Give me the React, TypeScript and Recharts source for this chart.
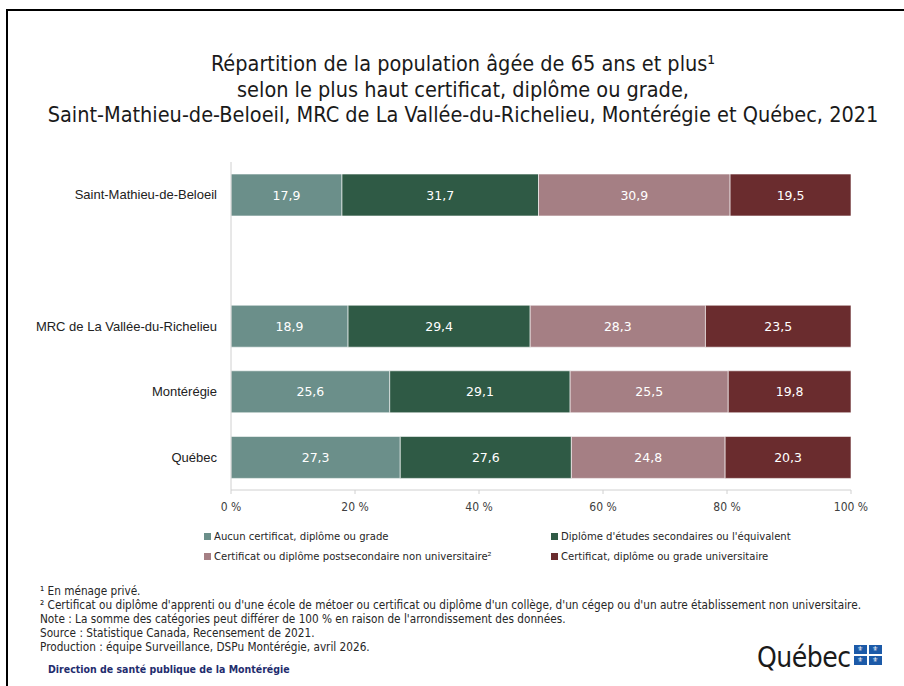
import React from 'react';
import { BarChart, Bar, XAxis, YAxis, LabelList } from 'recharts';

// regions (the empty one is the gap after the municipality)
const regions = ['Saint-Mathieu-de-Beloeil', '', 'MRC de La Vallée-du-Richelieu', 'Montérégie', 'Québec'];
const aucunDiplome = [17.9, null, 18.9, 25.6, 27.3];
const secondaire = [31.7, null, 29.4, 29.1, 27.6];
const postsecondaire = [30.9, null, 28.3, 25.5, 24.8];
const universitaire = [19.5, null, 23.5, 19.8, 20.3];

const seriesKeys = ['aucun', 'secondaire', 'postsec', 'univ'];
const seriesNames = [
  'Aucun certificat, diplôme ou grade',
  "Diplôme d'études secondaires ou l'équivalent",
  'Certificat ou diplôme postsecondaire non universitaire²',
  'Certificat, diplôme ou grade universitaire',
];
const seriesColors = ['#6b8f8a', '#2f5a45', '#a57f84', '#6a2c2e'];
const xTicks = [0, 0.2, 0.4, 0.6, 0.8, 1];

const footnotes = [
  '¹ En ménage privé.',
  "² Certificat ou diplôme d'apprenti ou d'une école de métoer ou certificat ou diplôme d'un collège, d'un cégep ou d'un autre établissement non universitaire.",
  "Note : La somme des catégories peut différer de 100 % en raison de l'arrondissement des données.",
  'Source : Statistique Canada, Recensement de 2021.',
  'Production : équipe Surveillance, DSPu Montérégie, avril 2026.',
];

const data = regions.map((name, i) => ({
  name,
  aucun: aucunDiplome[i],
  secondaire: secondaire[i],
  postsec: postsecondaire[i],
  univ: universitaire[i],
}));

const narrow = "'Liberation Sans Narrow', 'DejaVu Sans Condensed', 'Roboto Condensed', 'Liberation Sans', sans-serif";

const renderValue = (props: any) => {
  const vb = props.viewBox || {};
  const x = props.x ?? vb.x;
  const y = props.y ?? vb.y;
  const width = props.width ?? vb.width;
  const height = props.height ?? vb.height;
  const { value } = props;
  if (value == null) return null;
  return (
    <text
      x={x + width / 2}
      y={y + height / 2}
      fill="#ffffff"
      textAnchor="middle"
      dominantBaseline="central"
      fontSize={12.5}
      fontFamily="'DejaVu Sans', sans-serif"
    >
      {Number(value).toFixed(1).replace('.', ',')}
    </text>
  );
};

export default function App() {
  return (
    <div style={{ position: 'absolute', left: 0, top: 0, width: 904, height: 686, background: '#fff', overflow: 'hidden' }}>
      <div style={{ position: 'absolute', left: 6, top: 9, width: 1000, height: 1000, border: '2px solid #000' }} />

      <div
        style={{
          position: 'absolute',
          left: 13,
          top: 51,
          width: 900,
          textAlign: 'center',
          fontFamily: narrow,
          fontSize: 21.5,
          lineHeight: '25.5px',
          color: '#1a1a1a',
        }}
      >
        <div>Répartition de la population âgée de 65 ans et plus¹</div>
        <div>selon le plus haut certificat, diplôme ou grade,</div>
        <div>Saint-Mathieu-de-Beloeil, MRC de La Vallée-du-Richelieu, Montérégie et Québec, 2021</div>
      </div>

      <div style={{ position: 'absolute', left: 0, top: 0 }}>
        <BarChart
          width={904}
          height={686}
          data={data}
          layout="vertical"
          stackOffset="expand"
          barCategoryGap={12}
          margin={{ top: 162, right: 53, bottom: 166, left: 0 }}
        >
          <XAxis
            type="number"
            domain={[0, 1]}
            ticks={xTicks}
            tickFormatter={(v: number) => `${Math.round(v * 100)} %`}
            axisLine={{ stroke: '#d0d0d0' }}
            tickLine={{ stroke: '#d0d0d0' }}
            tickSize={4}
            tickMargin={8}
            height={30}
            tick={{ fontSize: 12, fill: '#404040', fontFamily: narrow }}
          />
          <YAxis
            type="category"
            dataKey="name"
            width={231}
            axisLine={{ stroke: '#d0d0d0' }}
            tickLine={false}
            tickMargin={8}
            tick={{ fontSize: 13, fill: '#222', fontFamily: "'Liberation Sans', Arial, sans-serif" }}
          />
          {seriesKeys.map((k, i) => (
            <Bar key={k} dataKey={k} stackId="a" fill={seriesColors[i]} stroke="#ffffff" strokeWidth={0.6} isAnimationActive={false}>
              <LabelList dataKey={k} content={renderValue} />
            </Bar>
          ))}
        </BarChart>
      </div>

      {seriesNames.map((n, i) => (
        <div
          key={n}
          style={{
            position: 'absolute',
            left: i % 2 === 0 ? 204 : 551,
            top: i < 2 ? 528 : 548,
            height: 16,
            display: 'flex',
            alignItems: 'center',
            fontFamily: narrow,
            fontSize: 11.2,
            color: '#262626',
            whiteSpace: 'nowrap',
          }}
        >
          <span style={{ display: 'inline-block', width: 7, height: 7, background: seriesColors[i], marginRight: 3 }} />
          {n}
        </div>
      ))}

      <div style={{ position: 'absolute', left: 40, top: 584, fontFamily: narrow, fontSize: 11.7, lineHeight: '14px', color: '#262626', whiteSpace: 'nowrap' }}>
        {footnotes.map((f) => (
          <div key={f}>{f}</div>
        ))}
      </div>

      <div style={{ position: 'absolute', left: 48, top: 663, fontFamily: narrow, fontSize: 10.5, fontWeight: 'bold', color: '#1f2d6e', whiteSpace: 'nowrap' }}>
        Direction de santé publique de la Montérégie
      </div>

      <div style={{ position: 'absolute', left: 757, top: 641, display: 'flex', alignItems: 'center' }}>
        <span style={{ fontFamily: narrow, fontSize: 28, color: '#1a1a1a', letterSpacing: -0.5 }}>Québec</span>
        <div style={{ display: 'grid', gridTemplateColumns: '13px 13px', gap: 2, marginLeft: 3, marginTop: -6 }}>
          {[0, 1, 2, 3].map((q) => (
            <div key={q} style={{ width: 13, height: 9, background: '#1c5aa8', color: '#fff', fontSize: 7, lineHeight: '9px', textAlign: 'center', fontFamily: "'DejaVu Sans', sans-serif" }}>
              ⚜
            </div>
          ))}
        </div>
      </div>
    </div>
  );
}
